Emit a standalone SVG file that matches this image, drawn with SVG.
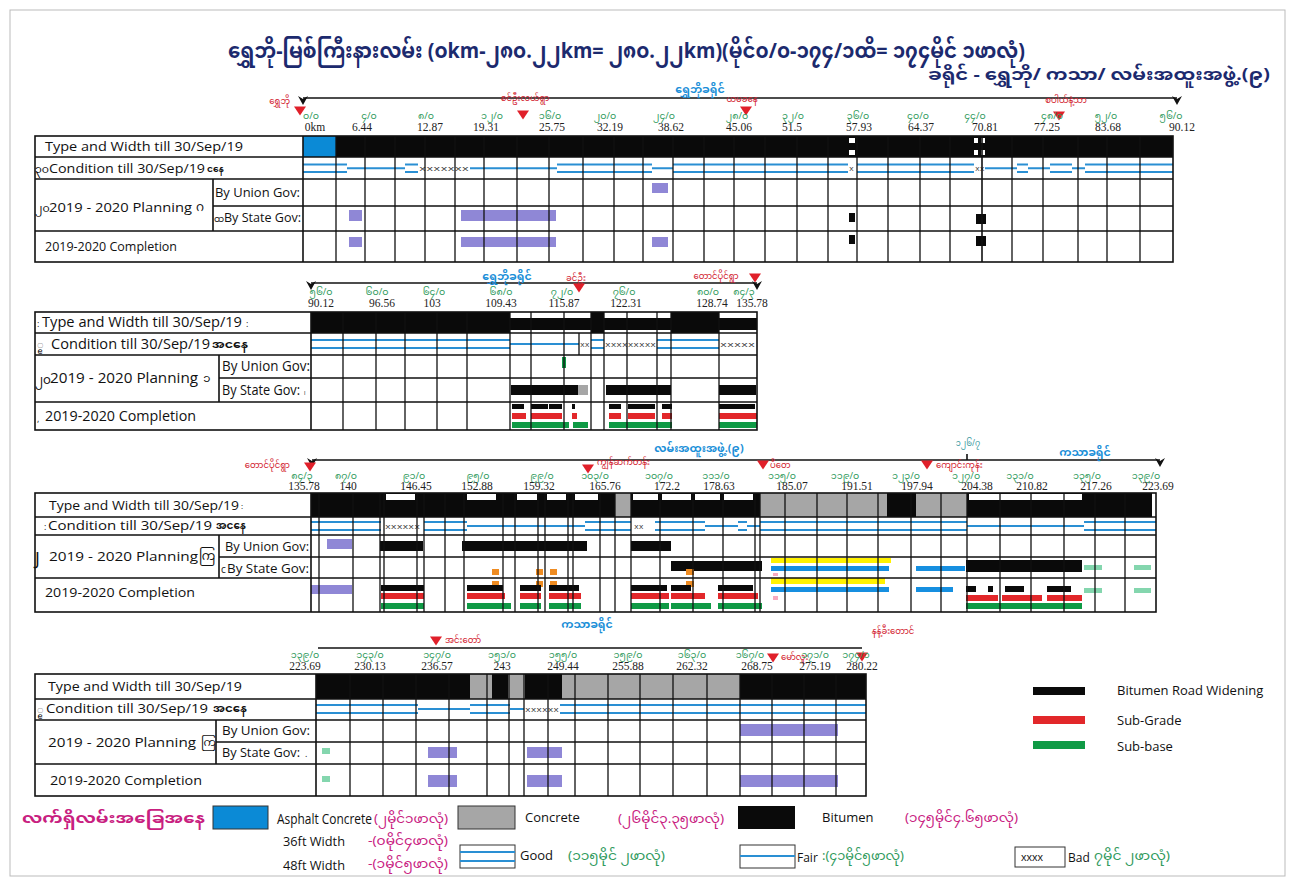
<svg xmlns="http://www.w3.org/2000/svg" width="1293" height="879" viewBox="0 0 1293 879">
<defs>
<style>
.bk{fill:#0a0a0a}.gy{fill:#a6a6a6}.ac{fill:#0b8ad6}.pu{fill:#8f87d6}.rd{fill:#e2272a}.gn{fill:#0f9a45}
.or{fill:#ef8c22}.ye{fill:#fff200}.bl{fill:#168fe0}.lg{fill:#84d6ae}.pk{fill:#f6a9c0}.wh{fill:#fff}
.gl{stroke:#111;stroke-width:1.3;fill:none}.bx{stroke:#111;stroke-width:1.6;fill:none}
.gd{stroke:#2a8fd3;stroke-width:2.2;fill:none}
.hl{stroke:#111;stroke-width:1.6;fill:none}
.t{font-family:"Open Sans","Liberation Sans",sans-serif;font-size:13px;fill:#111}
.my{font-family:"Noto Sans Myanmar","Noto Sans",sans-serif}
.km{font-family:"Liberation Serif",serif;font-size:11.5px;fill:#222;text-anchor:middle}
.mi{font-family:"Noto Sans Myanmar","Noto Sans",sans-serif;font-size:9.5px;fill:#2f9a5c;text-anchor:middle}
.tn{font-family:"Noto Sans Myanmar","Noto Sans",sans-serif;font-size:8.5px;fill:#d2202e}
.ds{font-family:"Noto Sans Myanmar","Noto Sans",sans-serif;font-size:11px;font-weight:bold;fill:#1b8fd8;text-anchor:middle}
.xx{font-family:"Liberation Mono",monospace;font-size:8px;fill:#333}
.mg{font-family:"Noto Sans Myanmar","Noto Sans",sans-serif;font-size:12px;fill:#c8207f}
.gt{font-family:"Noto Sans Myanmar","Noto Sans",sans-serif;font-size:12px;fill:#2f9a5c}
</style>
<path id="tri" d="M-6 -4.5L6 -4.5L0 4.5Z" fill="#e0202a"/>
<path id="chev" d="M-5 -3L0 6L5 -3L0 0Z" fill="#111"/>
</defs>
<rect width="1293" height="879" fill="#fff"/>
<rect x="10" y="10" width="1275" height="866" fill="none" stroke="#bbb" stroke-width="1"/>

<g id="title">
<text x="228" y="58" class="my" font-size="21" font-weight="bold" fill="#1c2a6e" textLength="797" lengthAdjust="spacingAndGlyphs">ရွှေဘို-မြစ်ကြီးနားလမ်း (၀km-၂၈၀.၂၂km= ၂၈၀.၂၂km)(မိုင်၀/၀-၁၇၄/၁ထိ= ၁၇၄မိုင် ၁ဖာလုံ)</text>
<text x="928" y="80" class="my" font-size="16" font-weight="bold" fill="#1c2a6e" textLength="342" lengthAdjust="spacingAndGlyphs">ခရိုင် - ရွှေဘို/ ကသာ/ လမ်းအထူးအဖွဲ့.(၉)</text>
</g>

<!-- ================= SECTION 1 ================= -->
<g id="sec1-header">
<path class="hl" d="M303 98H1177"/>
<use href="#chev" x="303" y="99"/><use href="#chev" x="1177" y="99"/>
<text x="700" y="93" class="ds">ရွှေဘိုခရိုင်</text>
<text x="290" y="104" class="tn" text-anchor="end">ရွှေဘို</text><use href="#tri" x="300" y="111"/>
<text x="525" y="101" class="tn" text-anchor="middle">စင်ဦးလယ်ရွာ</text><use href="#tri" x="523" y="115"/>
<text x="742" y="102" class="tn" text-anchor="middle">ယမခနေ</text><use href="#tri" x="746" y="111"/>
<text x="1066" y="103" class="tn" text-anchor="middle">စပါယ်နံ့သာ</text><use href="#tri" x="1059" y="116"/>
<g class="mi">
<text x="311" y="119">၀/၀</text><text x="369" y="119">၄/၀</text><text x="426" y="119">၈/၀</text><text x="492" y="119">၁၂/၀</text><text x="550" y="119">၁၆/၀</text><text x="605" y="119">၂၀/၀</text><text x="664" y="119">၂၄/၀</text><text x="737" y="119">၂၈/၀</text><text x="793" y="119">၃၂/၀</text><text x="858" y="119">၃၆/၀</text><text x="918" y="119">၄၀/၀</text><text x="975" y="119">၄၄/၀</text><text x="1052" y="119">၄၈/၀</text><text x="1106" y="119">၅၂/၀</text><text x="1171" y="119">၅၆/၀</text>
</g>
<g class="km">
<text x="315" y="131">0km</text><text x="362" y="131">6.44</text><text x="430" y="131">12.87</text><text x="486" y="131">19.31</text><text x="552" y="131">25.75</text><text x="610" y="131">32.19</text><text x="671" y="131">38.62</text><text x="739" y="131">45.06</text><text x="792" y="131">51.5</text><text x="859" y="131">57.93</text><text x="921" y="131">64.37</text><text x="985" y="131">70.81</text><text x="1047" y="131">77.25</text><text x="1108" y="131">83.68</text><text x="1182" y="131">90.12</text>
</g>
</g>

<g id="sec1-table">
<rect class="ac" x="303" y="136" width="33" height="21"/>
<rect class="bk" x="336" y="136" width="837" height="21"/>
<rect class="wh" x="849" y="138" width="6" height="5"/><rect class="wh" x="849" y="150" width="6" height="5"/>
<rect class="wh" x="974" y="138" width="4" height="5"/><rect class="wh" x="981" y="138" width="4" height="5"/>
<rect class="wh" x="974" y="150" width="4" height="5"/><rect class="wh" x="981" y="150" width="4" height="5"/>
<path class="gd" d="M303 164.5H347M303 172H347M405 164.5H418M405 172H418M557 164.5H652M557 172H652M673 164.5H848M673 172H848M857 164.5H974M857 172H974M1017 164.5H1028M1017 172H1028M1050 164.5H1072M1050 172H1072M1085 164.5H1173M1085 172H1173"/>
<path class="gd" d="M347 168.25H405M470 168.25H557M652 168.25H673M985 168.25H1017M1028 168.25H1050M1072 168.25H1085"/>
<text class="xx" x="419" y="171" textLength="50" lengthAdjust="spacingAndGlyphs">xxxxxxx</text>
<text class="xx" x="849" y="171">x</text><text class="xx" x="975" y="171">xx</text>
<rect class="pu" x="652" y="183" width="16" height="10"/>
<rect class="pu" x="349" y="210" width="13" height="11"/><rect class="pu" x="461" y="210" width="95" height="11"/>
<rect class="bk" x="849" y="213" width="6" height="9"/><rect class="bk" x="976" y="214" width="10" height="10"/>
<rect class="pu" x="349" y="237" width="13" height="10"/><rect class="pu" x="461" y="237" width="95" height="10"/><rect class="pu" x="652" y="237" width="16" height="10"/>
<rect class="bk" x="849" y="235" width="6" height="9"/><rect class="bk" x="976" y="236" width="10" height="10"/>
<path class="gl" d="M336 136V262M365 136V262M395 136V262M425 136V262M455 136V262M484 136V262M517 136V262M549 136V262M583 136V262M614 136V262M643 136V262M673 136V262M704 136V262M734 136V262M765 136V262M797 136V262M828 136V262M857 136V262M888 136V262M920 136V262M950 136V262M1012 136V262M1043 136V262M1078 136V262M1107 136V262M1140 136V262"/>
<path class="bx" d="M982 136V262"/>
<rect class="bx" x="35" y="136" width="1138" height="126"/>
<path class="bx" d="M303 136V262M35 157H1173M35 179H1173M213 206H1173M35 231H1173M213 179V231"/>
<text class="t" x="45" y="151" textLength="198" lengthAdjust="spacingAndGlyphs">Type and Width till 30/Sep/19</text>
<text class="t my" x="35" y="173" style="font-size:11px">၃၀</text>
<text class="t" x="49" y="173" textLength="156" lengthAdjust="spacingAndGlyphs">Condition till 30/Sep/19</text>
<text class="t my" x="207" y="172" style="font-size:9px;font-weight:bold">ငနေ</text>
<text class="t my" x="35" y="212" style="font-size:11px">၂၀</text>
<text class="t" x="49" y="212" textLength="143" lengthAdjust="spacingAndGlyphs">2019 - 2020 Planning</text>
<text class="t my" x="196" y="211" style="font-size:12px">ဂ</text>
<text class="t" x="215" y="197" textLength="85" lengthAdjust="spacingAndGlyphs">By Union Gov:</text>
<text class="t my" x="214" y="222" style="font-size:9px">ထ</text>
<text class="t" x="224" y="222" textLength="77" lengthAdjust="spacingAndGlyphs">By State Gov:</text>
<text class="t" x="45" y="251" textLength="132" lengthAdjust="spacingAndGlyphs">2019-2020 Completion</text>
</g>

<!-- ================= SECTION 2 ================= -->
<g id="sec2-header">
<path class="hl" d="M311 283H757"/>
<use href="#chev" x="311" y="284"/><use href="#chev" x="757" y="284"/>
<text x="507" y="280" class="ds">ရွှေဘိုခရိုင်</text>
<text x="576" y="281" class="tn" text-anchor="middle">ခင်ဦး</text><use href="#tri" x="579" y="288"/>
<text x="716" y="279" class="tn" text-anchor="middle">တောင်ပိုင်ရွာ</text><use href="#tri" x="755" y="278"/>
<g class="mi">
<text x="321" y="295">၅၆/၀</text><text x="377" y="295">၆၀/၀</text><text x="434" y="295">၆၄/၀</text><text x="501" y="295">၆၈/၀</text><text x="562" y="295">၇၂/၀</text><text x="624" y="295">၇၆/၀</text><text x="708" y="295">၈၀/၀</text><text x="744" y="295">၈၄/၃</text>
</g>
<g class="km">
<text x="321" y="307">90.12</text><text x="382" y="307">96.56</text><text x="432" y="307">103</text><text x="501" y="307">109.43</text><text x="564" y="307">115.87</text><text x="626" y="307">122.31</text><text x="712" y="307">128.74</text><text x="752" y="307">135.78</text>
</g>
</g>

<g id="sec2-table">
<rect class="bk" x="311" y="312" width="199" height="21"/>
<rect class="bk" x="510" y="318" width="81" height="12"/>
<rect class="bk" x="591" y="312" width="13" height="21"/>
<rect class="bk" x="604" y="318" width="67" height="12"/>
<rect class="bk" x="671" y="312" width="48" height="21"/>
<rect class="bk" x="719" y="318" width="38" height="12"/>
<path class="gd" d="M311 340H510M311 348H510M591 340H604M591 348H604M657 340H719M657 348H719"/>
<path class="gd" d="M510 344H579"/>
<text class="xx" x="580" y="347">xx</text>
<text class="xx" x="605" y="347" textLength="51" lengthAdjust="spacingAndGlyphs">xxxxxxxxx</text>
<text class="xx" x="720" y="347" textLength="35" lengthAdjust="spacingAndGlyphs">xxxxx</text>
<rect class="gn" x="562" y="357" width="4" height="11"/>
<rect class="bk" x="511" y="385" width="67" height="10"/><rect class="gy" x="578" y="385" width="10" height="10"/>
<rect class="bk" x="606" y="385" width="65" height="10"/><rect class="bk" x="719" y="385" width="37" height="10"/>
<rect class="bk" x="512" y="404" width="12" height="5"/><rect class="bk" x="531" y="404" width="17" height="5"/><rect class="bk" x="549" y="404" width="13" height="5"/><rect class="bk" x="572" y="404" width="3" height="5"/>
<rect class="bk" x="609" y="404" width="12" height="5"/><rect class="bk" x="628" y="404" width="27" height="5"/><rect class="bk" x="662" y="404" width="10" height="5"/><rect class="bk" x="719" y="404" width="36" height="5"/>
<rect class="rd" x="512" y="413" width="14" height="6"/><rect class="rd" x="531" y="413" width="31" height="6"/><rect class="rd" x="572" y="413" width="5" height="6"/>
<rect class="rd" x="609" y="413" width="12" height="6"/><rect class="rd" x="628" y="413" width="27" height="6"/><rect class="rd" x="662" y="413" width="10" height="6"/><rect class="rd" x="719" y="413" width="38" height="6"/>
<rect class="gn" x="512" y="422" width="57" height="6"/><rect class="gn" x="573" y="422" width="15" height="6"/>
<rect class="gn" x="609" y="422" width="63" height="6"/><rect class="gn" x="719" y="422" width="38" height="6"/>
<path class="gl" d="M343 312V430M376 312V430M405 312V430M437 312V430M467 312V430M510 312V430M531 312V430M564 312V430M591 312V430M604 312V430M627 312V430M657 312V430M671 312V430M719 312V430M579 333V355"/>
<rect class="bx" x="35" y="312" width="722" height="118"/>
<path class="bx" d="M311 312V430M35 333H757M35 355H757M219 378H757M35 402H757M219 355V402"/>
<text class="t" x="37" y="327" style="font-size:9px">:</text>
<text class="t" x="42" y="327" style="font-size:14px" textLength="200" lengthAdjust="spacingAndGlyphs">Type and Width till 30/Sep/19</text>
<text class="t" x="246" y="327" style="font-size:9px">:</text>
<text class="t my" x="37" y="349" style="font-size:11px">ၙ</text>
<text class="t" x="51" y="349" style="font-size:14px" textLength="159" lengthAdjust="spacingAndGlyphs">Condition till 30/Sep/19</text>
<text class="t my" x="212" y="348" style="font-size:11px;font-weight:bold" textLength="36" lengthAdjust="spacingAndGlyphs">အငနေ</text>
<text class="t my" x="35" y="384" style="font-size:12px">၂၀</text>
<text class="t" x="50" y="383" style="font-size:14px" textLength="148" lengthAdjust="spacingAndGlyphs">2019 - 2020 Planning</text>
<text class="t my" x="203" y="382" style="font-size:11px">ၥ</text>
<text class="t" x="222" y="371" style="font-size:14px" textLength="88" lengthAdjust="spacingAndGlyphs">By Union Gov:</text>
<text class="t" x="222" y="395" style="font-size:14px" textLength="78" lengthAdjust="spacingAndGlyphs">By State Gov:</text>
<text class="t" x="304" y="395" style="font-size:9px">၊</text>
<text class="t" x="37" y="422" style="font-size:9px">,</text>
<text class="t" x="45" y="421" style="font-size:14px" textLength="151" lengthAdjust="spacingAndGlyphs">2019-2020 Completion</text>
</g>

<!-- ================= SECTION 3 ================= -->
<g id="sec3-header">
<path class="hl" d="M312 460H1160M967 454V460"/>
<use href="#chev" x="312" y="461"/><use href="#chev" x="1160" y="461"/>
<text x="699" y="452" class="ds">လမ်းအထူးအဖွဲ့.(၉)</text>
<text x="1085" y="456" class="ds">ကသာခရိုင်</text>
<text x="968" y="446" class="mi" style="font-size:8px;fill:#3a9aa0">၁၂၆/၇</text>
<text x="290" y="468" class="tn" text-anchor="end">တောင်ပိုင်ရွာ</text><use href="#tri" x="310" y="467"/>
<text x="597" y="465" class="tn">ကျွန်ဆက်တန်း</text><use href="#tri" x="588" y="469"/>
<text x="770" y="468" class="tn">ပီတေ</text><use href="#tri" x="763" y="465"/>
<text x="936" y="468" class="tn">ကျောင်းကုန်း</text><use href="#tri" x="927" y="465"/>
<g class="mi">
<text x="302" y="479">၈၄/၃</text><text x="346" y="479">၈၇/၀</text><text x="414" y="479">၉၁/၀</text><text x="478" y="479">၉၅/၀</text><text x="542" y="479">၉၉/၀</text><text x="595" y="479">၁၀၃/၀</text><text x="659" y="479">၁၀၇/၀</text><text x="716" y="479">၁၁၁/၀</text><text x="782" y="479">၁၁၅/၀</text><text x="845" y="479">၁၁၉/၀</text><text x="906" y="479">၁၂၃/၀</text><text x="966" y="479">၁၂၇/၀</text><text x="1020" y="479">၁၃၁/၀</text><text x="1087" y="479">၁၃၅/၀</text><text x="1146" y="479">၁၃၉/၀</text>
</g>
<g class="km">
<text x="304" y="490">135.78</text><text x="348" y="490">140</text><text x="416" y="490">146.45</text><text x="477" y="490">152.88</text><text x="539" y="490">159.32</text><text x="605" y="490">165.76</text><text x="667" y="490">172.2</text><text x="719" y="490">178.63</text><text x="792" y="490">185.07</text><text x="857" y="490">191.51</text><text x="917" y="490">197.94</text><text x="977" y="490">204.38</text><text x="1032" y="490">210.82</text><text x="1096" y="490">217.26</text><text x="1158" y="490">223.69</text>
</g>
</g>

<g id="sec3-table">
<rect class="bk" x="311" y="493" width="304" height="24"/>
<rect class="wh" x="386" y="494" width="29" height="6"/><rect class="wh" x="467" y="494" width="29" height="6"/><rect class="wh" x="517" y="494" width="20" height="6"/><rect class="wh" x="547" y="494" width="19" height="6"/><rect class="wh" x="575" y="494" width="23" height="6"/>
<rect class="gy" x="615" y="493" width="16" height="24"/>
<rect class="bk" x="631" y="493" width="129" height="24"/>
<rect class="wh" x="633" y="494" width="25" height="6"/><rect class="wh" x="662" y="494" width="29" height="6"/><rect class="wh" x="695" y="494" width="25" height="6"/><rect class="wh" x="724" y="494" width="29" height="6"/>
<rect class="gy" x="760" y="493" width="127" height="24"/>
<rect class="bk" x="887" y="493" width="29" height="24"/>
<rect class="gy" x="916" y="493" width="51" height="24"/>
<rect class="bk" x="967" y="493" width="185" height="24"/>
<rect class="wh" x="969" y="494" width="113" height="6"/>
<path class="gd" d="M311 522H381M311 530H381M424 522H467M424 530H467M585 522H631M585 530H631M655 522H705M655 530H705M738 522H747M738 530H747M760 522H967M760 530H967M1084 522H1156M1084 530H1156"/>
<path class="gd" d="M467 526H585M705 526H738M747 526H760M967 526H1084"/>
<text class="xx" x="385" y="529" textLength="35" lengthAdjust="spacingAndGlyphs">xxxxxx</text>
<text class="xx" x="634" y="529">xx</text>
<rect class="pu" x="327" y="539" width="25" height="10"/>
<rect class="bk" x="380" y="541" width="43" height="10"/><rect class="bk" x="462" y="541" width="125" height="10"/><rect class="bk" x="631" y="541" width="40" height="10"/>
<rect class="bk" x="671" y="561" width="91" height="10"/>
<rect class="ye" x="771" y="558" width="120" height="5"/><rect class="bl" x="771" y="566" width="118" height="5"/><rect class="pk" x="773" y="573" width="5" height="3"/>
<rect class="bl" x="916" y="566" width="49" height="5"/>
<rect class="bk" x="966" y="560" width="116" height="12"/>
<rect class="lg" x="1084" y="565" width="18" height="5"/><rect class="lg" x="1134" y="565" width="17" height="5"/>
<rect class="or" x="492" y="569" width="7" height="6"/><rect class="or" x="536" y="569" width="7" height="6"/><rect class="or" x="550" y="569" width="7" height="6"/><rect class="or" x="686" y="569" width="8" height="6"/>
<rect class="or" x="492" y="581" width="7" height="6"/><rect class="or" x="536" y="581" width="7" height="6"/><rect class="or" x="550" y="581" width="7" height="6"/><rect class="or" x="686" y="581" width="8" height="6"/>
<rect class="pu" x="311" y="585" width="41" height="9"/>
<rect class="bk" x="381" y="585" width="43" height="6"/><rect class="bk" x="467" y="585" width="36" height="6"/><rect class="bk" x="520" y="585" width="21" height="6"/><rect class="bk" x="549" y="585" width="30" height="6"/>
<rect class="bk" x="631" y="585" width="36" height="6"/><rect class="bk" x="671" y="585" width="20" height="6"/><rect class="bk" x="718" y="585" width="35" height="6"/>
<rect class="rd" x="381" y="593" width="43" height="6"/><rect class="rd" x="467" y="593" width="38" height="6"/><rect class="rd" x="520" y="593" width="21" height="6"/><rect class="rd" x="549" y="593" width="32" height="6"/>
<rect class="rd" x="631" y="593" width="38" height="6"/><rect class="rd" x="671" y="593" width="34" height="6"/><rect class="rd" x="718" y="593" width="40" height="6"/>
<rect class="gn" x="381" y="603" width="43" height="6"/><rect class="gn" x="467" y="603" width="44" height="6"/><rect class="gn" x="520" y="603" width="21" height="6"/><rect class="gn" x="549" y="603" width="32" height="6"/>
<rect class="gn" x="631" y="603" width="38" height="6"/><rect class="gn" x="671" y="603" width="40" height="6"/><rect class="gn" x="718" y="603" width="44" height="6"/>
<rect class="ye" x="771" y="578" width="114" height="6"/><rect class="bl" x="771" y="587" width="118" height="5"/><rect class="pk" x="773" y="596" width="5" height="4"/>
<rect class="bl" x="916" y="587" width="37" height="5"/>
<rect class="bk" x="966" y="586" width="10" height="6"/><rect class="bk" x="988" y="586" width="5" height="6"/><rect class="bk" x="1005" y="586" width="19" height="6"/><rect class="bk" x="1047" y="586" width="24" height="6"/>
<rect class="rd" x="966" y="595" width="32" height="6"/><rect class="rd" x="1002" y="595" width="40" height="6"/><rect class="rd" x="1047" y="595" width="35" height="6"/>
<rect class="gn" x="966" y="603" width="116" height="6"/>
<rect class="lg" x="1084" y="588" width="18" height="5"/><rect class="lg" x="1134" y="588" width="17" height="5"/>
<path class="gl" d="M319 493V612M353 493V612M380 493V612M384 493V612M417 493V612M424 493V612M445 493V612M464 493V612M503 493V612M515 493V612M538 493V612M545 493V612M568 493V612M573 493V612M600 493V612M615 493V612M631 493V612M660 493V612M693 493V612M723 493V612M755 493V612M760 493V612M785 493V612M817 493V612M847 493V612M878 493V612M911 493V612M941 493V612M967 493V612M1000 493V612M1031 493V612M1064 493V612M1095 493V612M1125 493V612"/>
<rect class="bx" x="35" y="493" width="1121" height="119"/>
<path class="bx" d="M311 493V612M35 517H1156M35 535H1156M219 557H1156M35 578H1156M219 535V578"/>
<text class="t" x="49" y="510" textLength="190" lengthAdjust="spacingAndGlyphs">Type and Width till 30/Sep/19</text>
<text class="t" x="241" y="509" style="font-size:8px">:</text>
<text class="t" x="44" y="530" style="font-size:9px">:</text>
<text class="t" x="48" y="530" textLength="164" lengthAdjust="spacingAndGlyphs">Condition till 30/Sep/19</text>
<text class="t my" x="216" y="529" style="font-size:11px;font-weight:bold" textLength="30" lengthAdjust="spacingAndGlyphs">အငနေ</text>
<text class="t" x="35" y="565" style="font-size:18px">J</text>
<text class="t" x="49" y="561" textLength="149" lengthAdjust="spacingAndGlyphs">2019 - 2020 Planning</text>
<text class="t my" x="199" y="560" style="font-size:12px">ကြ</text>
<text class="t" x="225" y="551" textLength="84" lengthAdjust="spacingAndGlyphs">By Union Gov:</text>
<text class="t" x="221" y="573" style="font-size:10px">c</text>
<text class="t" x="227" y="573" textLength="82" lengthAdjust="spacingAndGlyphs">By State Gov:</text>
<text class="t" x="45" y="597" textLength="150" lengthAdjust="spacingAndGlyphs">2019-2020 Completion</text>
</g>

<!-- ================= SECTION 4 ================= -->
<g id="sec4-header">
<path class="hl" d="M318 648H862"/>
<text x="587" y="628" class="ds">ကသာခရိုင်</text>
<text x="445" y="643" class="tn">အင်းတော်</text><use href="#tri" x="436" y="641"/>
<text x="781" y="660" class="tn">မော်လူး</text><use href="#tri" x="773" y="658"/>
<text x="893" y="634" class="tn" text-anchor="middle">နန့်ခီးတောင်</text><use href="#tri" x="862" y="657"/>
<g class="mi">
<text x="305" y="658">၁၃၉/၀</text><text x="370" y="658">၁၄၃/၀</text><text x="437" y="658">၁၄၇/၀</text><text x="502" y="658">၁၅၁/၀</text><text x="563" y="658">၁၅၅/၀</text><text x="628" y="658">၁၅၉/၀</text><text x="692" y="658">၁၆၃/၀</text><text x="750" y="658">၁၆၇/၀</text><text x="815" y="658">၁၇၁/၀</text><text x="856" y="658">၁၇၄/၁</text>
</g>
<g class="km">
<text x="305" y="670">223.69</text><text x="370" y="670">230.13</text><text x="437" y="670">236.57</text><text x="502" y="670">243</text><text x="563" y="670">249.44</text><text x="628" y="670">255.88</text><text x="692" y="670">262.32</text><text x="757" y="670">268.75</text><text x="815" y="670">275.19</text><text x="862" y="670">280.22</text>
</g>
</g>

<g id="sec4-table">
<rect class="bk" x="316" y="674" width="154" height="25"/>
<rect class="gy" x="470" y="674" width="22" height="25"/>
<rect class="bk" x="492" y="674" width="16" height="25"/>
<rect class="gy" x="508" y="674" width="17" height="25"/>
<rect class="bk" x="525" y="674" width="37" height="25"/>
<rect class="gy" x="562" y="674" width="178" height="25"/>
<rect class="bk" x="740" y="674" width="126" height="25"/>
<path class="gd" d="M316 705H418M316 713H418M470 705H510M470 713H510M560 705H866M560 713H866"/>
<path class="gd" d="M418 709H470M510 709H524"/>
<text class="xx" x="525" y="712" textLength="34" lengthAdjust="spacingAndGlyphs">xxxxxx</text>
<rect class="pu" x="740" y="724" width="98" height="12"/>
<rect class="lg" x="322" y="748" width="8" height="6"/>
<rect class="pu" x="428" y="747" width="29" height="11"/><rect class="pu" x="527" y="747" width="35" height="11"/>
<rect class="lg" x="322" y="776" width="8" height="6"/>
<rect class="pu" x="428" y="775" width="29" height="12"/><rect class="pu" x="527" y="775" width="35" height="12"/><rect class="pu" x="740" y="775" width="98" height="12"/>
<path class="gl" d="M350 674V796M383 674V796M416 674V796M449 674V796M487 674V796M509 674V796M524 674V796M548 674V796M575 674V796M608 674V796M640 674V796M673 674V796M707 674V796M740 674V796M772 674V796M804 674V796M836 674V796"/>
<rect class="bx" x="35" y="674" width="831" height="122"/>
<path class="bx" d="M316 674V796M35 699H866M35 720H866M216 742H866M35 764H866M216 720V764"/>
<text class="t" x="48" y="691" textLength="194" lengthAdjust="spacingAndGlyphs">Type and Width till 30/Sep/19</text>
<text class="t my" x="37" y="714" style="font-size:11px">ၙ</text>
<text class="t" x="46" y="713" textLength="162" lengthAdjust="spacingAndGlyphs">Condition till 30/Sep/19</text>
<text class="t my" x="213" y="712" style="font-size:11px;font-weight:bold" textLength="34" lengthAdjust="spacingAndGlyphs">အငနေ</text>
<text class="t" x="48" y="747" textLength="148" lengthAdjust="spacingAndGlyphs">2019 - 2020 Planning</text>
<text class="t my" x="201" y="746" style="font-size:11px">ကြ</text>
<text class="t" x="222" y="735" textLength="88" lengthAdjust="spacingAndGlyphs">By Union Gov:</text>
<text class="t" x="222" y="757" textLength="78" lengthAdjust="spacingAndGlyphs">By State Gov:</text>
<text class="t" x="305" y="757" style="font-size:9px">.</text>
<text class="t" x="50" y="785" textLength="152" lengthAdjust="spacingAndGlyphs">2019-2020 Completion</text>
</g>

<!-- ================= LEGENDS ================= -->
<g id="legend-right">
<rect class="bk" x="1033" y="687" width="52" height="8"/>
<text class="t" x="1117" y="695">Bitumen Road Widening</text>
<rect class="rd" x="1033" y="716" width="52" height="8"/>
<text class="t" x="1117" y="725">Sub-Grade</text>
<rect class="gn" x="1033" y="741" width="52" height="8"/>
<text class="t" x="1117" y="751">Sub-base</text>
</g>

<g id="legend-bottom">
<text x="22" y="823" class="my" font-size="14" font-weight="bold" fill="#c8207f" textLength="183" lengthAdjust="spacingAndGlyphs">လက်ရှိလမ်းအခြေအနေ</text>
<rect class="ac" x="213" y="806" width="55" height="23" stroke="#333" stroke-width="1"/>
<text class="t" x="277" y="824" style="font-size:15px" textLength="95" lengthAdjust="spacingAndGlyphs">Asphalt Concrete</text>
<text class="mg" x="374" y="823" textLength="74" lengthAdjust="spacingAndGlyphs">(၂မိုင်၁ဖာလုံ)</text>
<rect class="gy" x="458" y="806" width="57" height="23" stroke="#333" stroke-width="1"/>
<text class="t" x="525" y="822">Concrete</text>
<text class="mg" x="618" y="823" textLength="106" lengthAdjust="spacingAndGlyphs">(၂၆မိုင်၃.၃၅ဖာလုံ)</text>
<rect class="bk" x="738" y="806" width="57" height="23"/>
<text class="t" x="822" y="822">Bitumen</text>
<text class="mg" x="905" y="822" textLength="113" lengthAdjust="spacingAndGlyphs">(၁၄၅မိုင်၄.၆၅ဖာလုံ)</text>
<text class="t" x="283" y="846" style="font-size:12px" textLength="62" lengthAdjust="spacingAndGlyphs">36ft Width</text>
<text class="mg" x="368" y="845" textLength="80" lengthAdjust="spacingAndGlyphs">-(၀မိုင်၄ဖာလုံ)</text>
<text class="t" x="283" y="870" style="font-size:12px" textLength="62" lengthAdjust="spacingAndGlyphs">48ft Width</text>
<text class="mg" x="368" y="868" textLength="80" lengthAdjust="spacingAndGlyphs">-(၁မိုင်၅ဖာလုံ)</text>
<rect x="460" y="845" width="55" height="23" fill="#fff" stroke="#333" stroke-width="1"/>
<path class="gd" d="M460 852H515M460 861H515"/>
<text class="t" x="520" y="860">Good</text>
<text class="gt" x="568" y="860" textLength="97" lengthAdjust="spacingAndGlyphs">(၁၁၅မိုင် ၂ဖာလုံ)</text>
<rect x="740" y="845" width="55" height="23" fill="#fff" stroke="#333" stroke-width="1"/>
<path class="gd" d="M740 856H795"/>
<text class="t" x="797" y="862" style="font-size:12px">Fair</text>
<text class="gt" x="822" y="860" textLength="82" lengthAdjust="spacingAndGlyphs">:(၄၁မိုင်၅ဖာလုံ)</text>
<rect x="1015" y="847" width="50" height="20" fill="#fff" stroke="#333" stroke-width="1"/>
<text x="1021" y="861" font-family="Liberation Sans, sans-serif" font-size="11" fill="#222">xxxx</text>
<text class="t" x="1068" y="862" style="font-size:12px">Bad</text>
<text class="gt" x="1094" y="860" textLength="76" lengthAdjust="spacingAndGlyphs">၇မိုင် ၂ဖာလုံ)</text>
</g>
</svg>
